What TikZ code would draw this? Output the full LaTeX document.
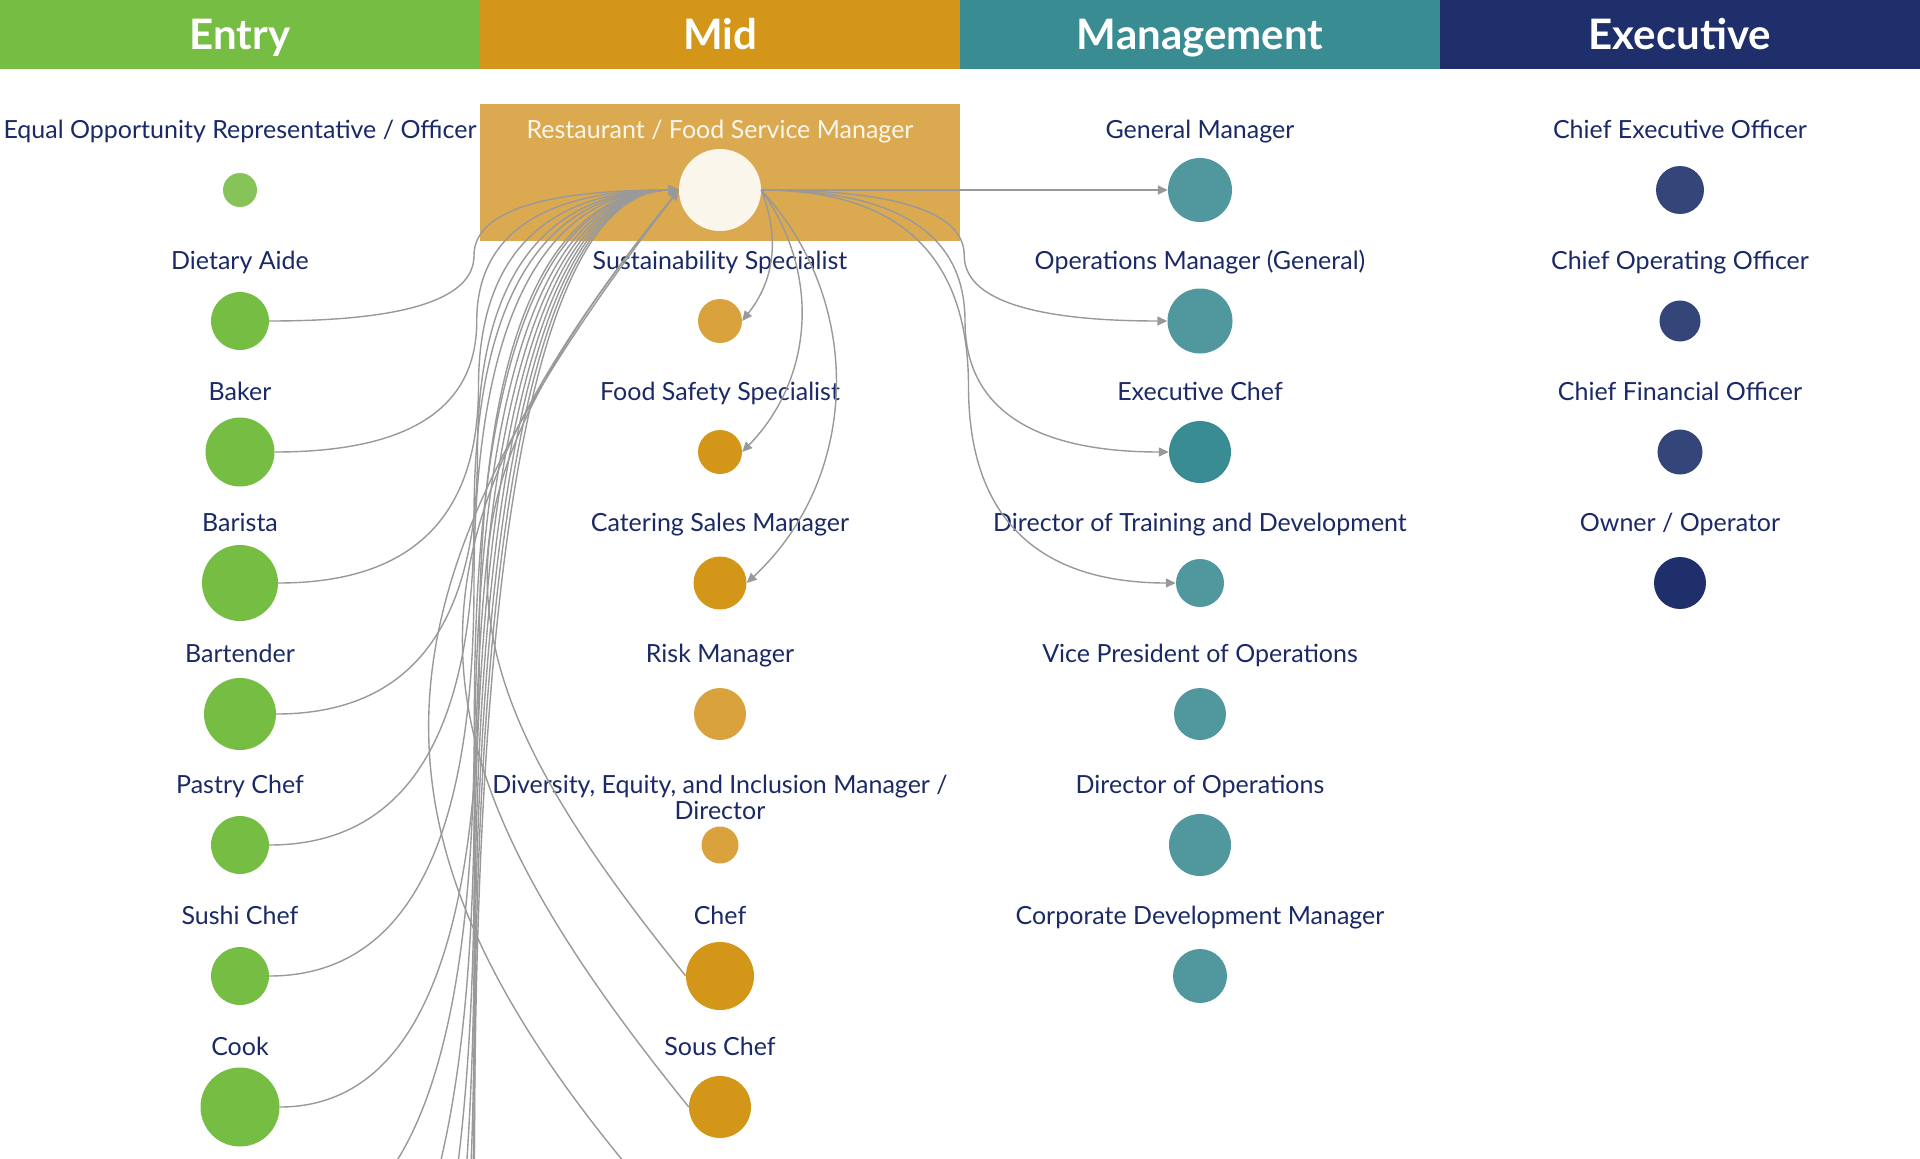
\documentclass[tikz,border=0pt]{standalone}
\usepackage{fontspec}
\setmainfont{Lato}
\usetikzlibrary{calc,arrows.meta}
\definecolor{entryC}{HTML}{76BD43}
\definecolor{entryL}{HTML}{86C45A}
\definecolor{midC}{HTML}{D39619}
\definecolor{midL}{HTML}{D9A23C}
\definecolor{boxC}{HTML}{DBA94F}
\definecolor{cream}{HTML}{FBF6EC}
\definecolor{mgmtC}{HTML}{3A8C93}
\definecolor{mgmtL}{HTML}{51979E}
\definecolor{execC}{HTML}{1F2F6B}
\definecolor{execL}{HTML}{34457A}
\definecolor{navy}{HTML}{1B2A66}
\definecolor{linkC}{HTML}{999999}
\newcommand\slink[2]{%
  \path (#1) coordinate (lkA) (#2) coordinate (lkB);
  \path ($(lkA)!0.5!(lkB)$) coordinate (lkM);
  \path (lkA -| lkM) coordinate (lkC) (lkB -| lkM) coordinate (lkD);
  \draw[link] (lkA) .. controls ($(lkA)!0.6667!(lkC)$) and ($(lkM)!0.6667!(lkC)$) .. (lkM)
     .. controls ($(lkM)!0.6667!(lkD)$) and ($(lkB)!0.6667!(lkD)$) .. (lkB);%
}
\begin{document}
\begin{tikzpicture}[x=1pt,y=1pt,
  link/.style={draw=linkC, line width=1.4pt, -{Triangle[length=10pt,width=9pt]}},
  dot/.style={circle, inner sep=0pt, minimum size=#1, draw=none},
  lbl/.style={text=navy, font=\fontsize{25}{26}\selectfont, anchor=base, inner sep=0pt, align=center},
  hdr/.style={text=white, font=\fontsize{42}{48}\selectfont\bfseries, anchor=base, inner sep=0pt}]
\useasboundingbox (0,0) rectangle (1920,-1159);
\clip (0,0) rectangle (1920,-1159);
\fill[white] (0,0) rectangle (1920,-1159);
% header band
\fill[entryC] (0,0) rectangle (480,-69);
\fill[midC] (480,0) rectangle (960,-69);
\fill[mgmtC] (960,0) rectangle (1440,-69);
\fill[execC] (1440,0) rectangle (1920,-69);
\node[hdr] (hEntry) at (240,-49) {Entry};
\node[hdr] (hMid) at (720,-49) {Mid};
\node[hdr] (hMgmt) at (1200,-49) {Management};
\node[hdr] (hExec) at (1680,-49) {Executive};
% highlight box
\fill[boxC] (480,-104) rectangle (960,-241);
% Entry
\node[dot=34pt, fill=entryL] (eq) at (240,-190) {};
\node[dot=58pt, fill=entryC] (dietary) at (240,-321) {};
\node[dot=69pt, fill=entryC] (baker) at (240,-452) {};
\node[dot=76pt, fill=entryC] (barista) at (240,-583) {};
\node[dot=72pt, fill=entryC] (bartender) at (240,-714) {};
\node[dot=58pt, fill=entryC] (pastry) at (240,-845) {};
\node[dot=58pt, fill=entryC] (sushi) at (240,-976) {};
\node[dot=79pt, fill=entryC] (cook) at (240,-1107) {};
\node[lbl] (t-eq) at (240,-138) {Equal Opportunity Representative / Officer};
\node[lbl] (t-dietary) at (240,-269) {Dietary Aide};
\node[lbl] (t-baker) at (240,-400) {Baker};
\node[lbl] (t-barista) at (240,-531) {Barista};
\node[lbl] (t-bartender) at (240,-662) {Bartender};
\node[lbl] (t-pastry) at (240,-793) {Pastry Chef};
\node[lbl] (t-sushi) at (240,-924) {Sushi Chef};
\node[lbl] (t-cook) at (240,-1055) {Cook};
% Mid
\node[dot=82pt, fill=cream] (rfsm) at (720,-190) {};
\node[dot=44pt, fill=midL] (sust) at (720,-321) {};
\node[dot=44pt, fill=midC] (foodsafe) at (720,-452) {};
\node[dot=53pt, fill=midC] (catering) at (720,-583) {};
\node[dot=52pt, fill=midL] (risk) at (720,-714) {};
\node[dot=37pt, fill=midL] (dei) at (720,-845) {};
\node[dot=68pt, fill=midC] (chef) at (720,-976) {};
\node[dot=62pt, fill=midC] (sous) at (720,-1107) {};
\node[lbl, text=cream] (t-rfsm) at (720,-138) {Restaurant / Food Service Manager};
\node[lbl] (t-sust) at (720,-269) {Sustainability Specialist};
\node[lbl] (t-foodsafe) at (720,-400) {Food Safety Specialist};
\node[lbl] (t-catering) at (720,-531) {Catering Sales Manager};
\node[lbl] (t-risk) at (720,-662) {Risk Manager};
\node[lbl] (t-dei) at (720,-819) {Diversity, Equity, and Inclusion Manager /\\Director};
\node[lbl] (t-chef) at (720,-924) {Chef};
\node[lbl] (t-sous) at (720,-1055) {Sous Chef};
% Management
\node[dot=64pt, fill=mgmtL] (gm) at (1200,-190) {};
\node[dot=65pt, fill=mgmtL] (ops) at (1200,-321) {};
\node[dot=62pt, fill=mgmtC] (execchef) at (1200,-452) {};
\node[dot=48pt, fill=mgmtL] (dirtrain) at (1200,-583) {};
\node[dot=52pt, fill=mgmtL] (vp) at (1200,-714) {};
\node[dot=62pt, fill=mgmtL] (dirops) at (1200,-845) {};
\node[dot=54pt, fill=mgmtL] (corpdev) at (1200,-976) {};
\node[lbl] (t-gm) at (1200,-138) {General Manager};
\node[lbl] (t-ops) at (1200,-269) {Operations Manager (General)};
\node[lbl] (t-execchef) at (1200,-400) {Executive Chef};
\node[lbl] (t-dirtrain) at (1200,-531) {Director of Training and Development};
\node[lbl] (t-vp) at (1200,-662) {Vice President of Operations};
\node[lbl] (t-dirops) at (1200,-793) {Director of Operations};
\node[lbl] (t-corpdev) at (1200,-924) {Corporate Development Manager};
% Executive
\node[dot=48pt, fill=execL] (ceo) at (1680,-190) {};
\node[dot=41pt, fill=execL] (coo) at (1680,-321) {};
\node[dot=45pt, fill=execL] (cfo) at (1680,-452) {};
\node[dot=52pt, fill=execC] (owner) at (1680,-583) {};
\node[lbl] (t-ceo) at (1680,-138) {Chief Executive Officer};
\node[lbl] (t-coo) at (1680,-269) {Chief Operating Officer};
\node[lbl] (t-cfo) at (1680,-400) {Chief Financial Officer};
\node[lbl] (t-owner) at (1680,-531) {Owner / Operator};
% sources below the visible area
\coordinate (hE9) at (270,-1238);
\coordinate (hE10) at (270,-1369);
\coordinate (hE11) at (270,-1500);
\coordinate (hE12) at (270,-1631);
\coordinate (hE13) at (270,-1762);
\coordinate (hE14) at (270,-1893);
\coordinate (hE15) at (270,-2024);
\coordinate (hE16) at (270,-2155);
\coordinate (hM9) at (690,-1238);
% links into Restaurant / Food Service Manager
\slink{dietary.east}{rfsm.west}
\slink{baker.east}{rfsm.west}
\slink{barista.east}{rfsm.west}
\slink{bartender.east}{rfsm.west}
\slink{pastry.east}{rfsm.west}
\slink{sushi.east}{rfsm.west}
\slink{cook.east}{rfsm.west}
\slink{hE9}{rfsm.west}
\slink{hE10}{rfsm.west}
\slink{hE11}{rfsm.west}
\slink{hE12}{rfsm.west}
\slink{hE13}{rfsm.west}
\slink{hE14}{rfsm.west}
\slink{hE15}{rfsm.west}
\slink{hE16}{rfsm.west}
\draw[link] (chef.west) .. controls +(-259,320) and +(-259,-320) .. (rfsm.west);
\draw[link] (sous.west) .. controls +(-294,363) and +(-294,-363) .. (rfsm.west);
\draw[link] (hM9) .. controls +(-360,395) and +(-320,-415) .. (rfsm.west);
% links out of Restaurant / Food Service Manager
\draw[link] (rfsm.east) to[bend left=30] (sust.east);
\draw[link] (rfsm.east) to[bend left=40] (foodsafe.east);
\draw[link] (rfsm.east) to[bend left=45] (catering.east);
\slink{rfsm.east}{gm.west}
\slink{rfsm.east}{ops.west}
\slink{rfsm.east}{execchef.west}
\slink{rfsm.east}{dirtrain.west}
\end{tikzpicture}
\end{document}
